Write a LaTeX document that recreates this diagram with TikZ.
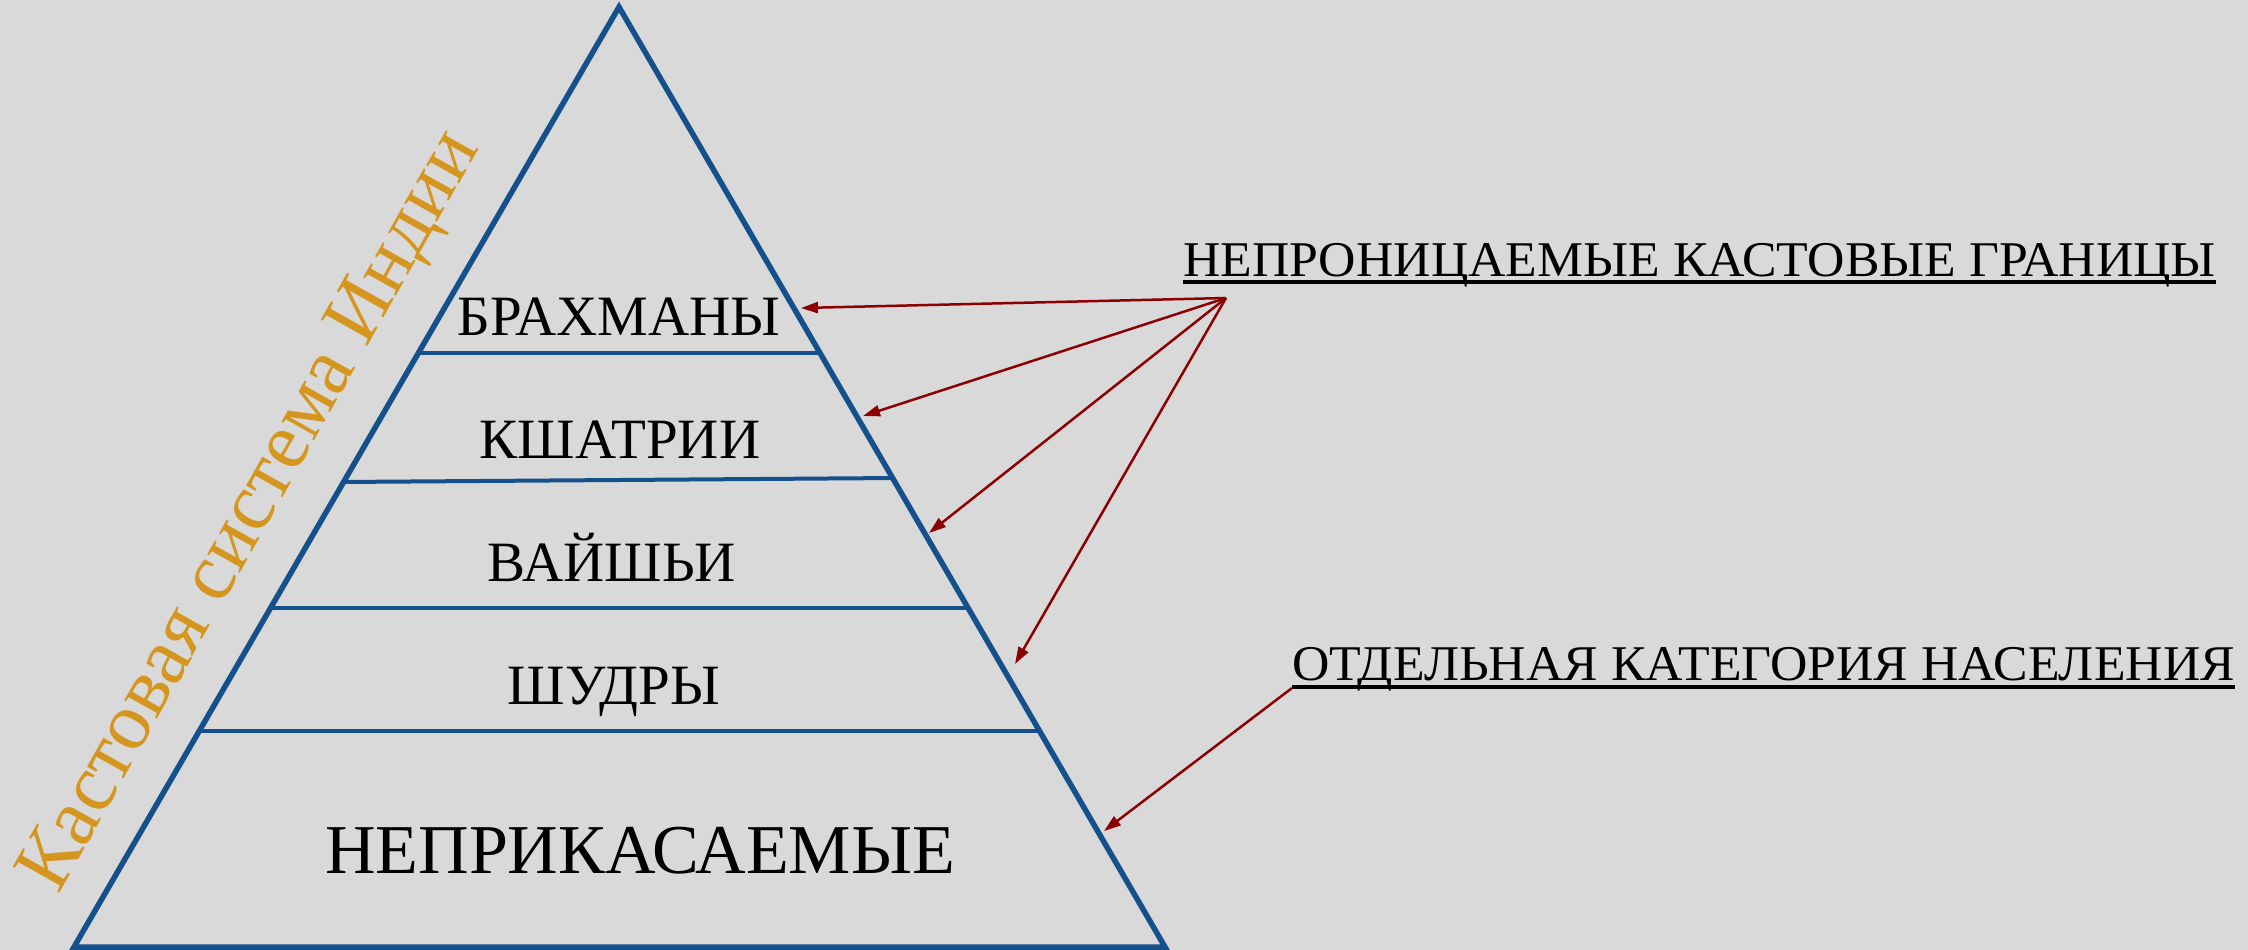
\documentclass[tikz,border=0pt]{standalone}
\usepackage{fontspec}
\setmainfont{Liberation Serif}
\usetikzlibrary{arrows.meta,calc}
\definecolor{bg}{RGB}{217,217,217}
\definecolor{pyr}{RGB}{20,80,140}
\definecolor{arr}{RGB}{139,0,0}
\definecolor{gold}{RGB}{212,150,30}
\begin{document}
\begin{tikzpicture}[x=1pt,y=-1pt,
  caste/.style={font=\fontsize{57}{60}\selectfont, inner sep=0pt, anchor=base},
  bigcaste/.style={font=\fontsize{70}{74}\selectfont, inner sep=0pt, anchor=base},
  note/.style={font=\fontsize{50}{55}\selectfont, inner sep=0pt, anchor=base west, xscale=1.035},
  title/.style={font=\fontsize{81.5}{86}\selectfont, text=gold, inner sep=0pt, anchor=base west, rotate=60.6},
  edgeline/.style={draw=pyr, line width=5.5pt, line join=miter},
  tier/.style={draw=pyr, line width=4pt},
  uline/.style={draw=black, line width=4pt},
  pointer/.style={draw=arr, line width=2.5pt, -{Triangle[length=17pt,width=11pt]}}]
\fill[bg] (0,0) rectangle (2248,950);
\useasboundingbox (0,0) rectangle (2248,950);
% pyramid
\coordinate (apex) at (619,7);
\coordinate (bl) at (74,947);
\coordinate (br) at (1165,947);
\draw[edgeline] (apex) -- (bl) -- (br) -- cycle;
\draw[tier] ($(apex)!0.3681!(bl)$) -- ($(apex)!0.3681!(br)$);
\draw[tier] ($(apex)!0.5053!(bl)$) -- ($(apex)!0.5011!(br)$);
\draw[tier] ($(apex)!0.6394!(bl)$) -- ($(apex)!0.6394!(br)$);
\draw[tier] ($(apex)!0.7702!(bl)$) -- ($(apex)!0.7702!(br)$);
% caste labels
\node[caste] (brah) at (619,335) {БРАХМАНЫ};
\node[caste] (kshat) at (620,458) {КШАТРИИ};
\node[caste] (vaish) at (612,581) {ВАЙШЬИ};
\node[caste] (shud) at (614,704) {ШУДРЫ};
\node[bigcaste] (untouch) at (640,873) {НЕПРИКАСАЕМЫЕ};
% title
\node[title] (ttl) at (58,896) {Кастовая система Индии};
% notes
\node[note] (n1) at (1183,276) {НЕПРОНИЦАЕМЫЕ КАСТОВЫЕ ГРАНИЦЫ};
\draw[uline] ([yshift=-6pt]n1.base west) -- ([yshift=-6pt]n1.base east);
\node[note] (n2) at (1292,680) {ОТДЕЛЬНАЯ КАТЕГОРИЯ НАСЕЛЕНИЯ};
\draw[uline] ([yshift=-6.5pt]n2.base west) -- ([yshift=-6.5pt]n2.base east);
% arrows
\coordinate (src) at (1226,298);
\coordinate (src2) at ([yshift=-8pt]n2.base west);
\coordinate (t1) at (801,308);
\coordinate (t2) at (863,416);
\coordinate (t3) at (929,533);
\coordinate (t4) at (1015,664);
\coordinate (t5) at (1104,831);
\draw[pointer] (src) -- (t1);
\draw[pointer] (src) -- (t2);
\draw[pointer] (src) -- (t3);
\draw[pointer] (src) -- (t4);
\draw[pointer] (src2) -- (t5);
\end{tikzpicture}
\end{document}
